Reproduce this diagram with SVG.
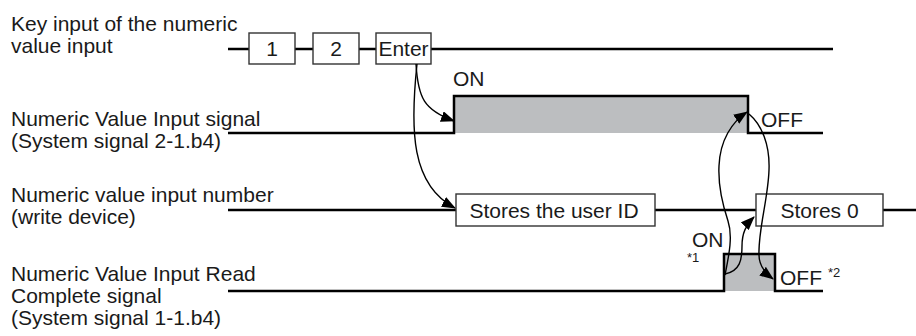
<svg xmlns="http://www.w3.org/2000/svg" width="916" height="336" viewBox="0 0 916 336">
<style>
text{font-family:"Liberation Sans",Arial,sans-serif;font-size:21px;fill:#1a1a1a}
.small{font-size:13px}
.mid{text-anchor:middle}
.sig{fill:none;stroke:#000;stroke-width:2.5}
.box{fill:#fff;stroke:#333;stroke-width:1.4}
.hi{fill:#bcbec0;stroke:none}
.arr{fill:none;stroke:#000;stroke-width:1.4;marker-end:url(#ah)}
</style>
<defs>
<marker id="ah" viewBox="0 0 14 11" refX="13" refY="5.5" markerWidth="14" markerHeight="11" markerUnits="userSpaceOnUse" orient="auto"><path d="M0,0 L14,5.5 L0,11 z" fill="#000"/></marker>
</defs>
<rect width="916" height="336" fill="#fff"/>
<g id="labels">
<text x="11" y="31">Key input of the numeric</text>
<text x="11" y="53">value input</text>
<text x="11" y="126">Numeric Value Input signal</text>
<text x="11" y="148">(System signal 2-1.b4)</text>
<text x="11" y="202">Numeric value input number</text>
<text x="11" y="224">(write device)</text>
<text x="11" y="281">Numeric Value Input Read</text>
<text x="11" y="303">Complete signal</text>
<text x="11" y="325">(System signal 1-1.b4)</text>
</g>
<g id="key-input">
<line class="sig" x1="228" y1="49" x2="833" y2="49"/>
<g id="key-1"><rect class="box" x="249" y="33" width="46" height="31"/><text class="mid" x="272" y="56">1</text></g>
<g id="key-2"><rect class="box" x="313" y="33" width="46" height="31"/><text class="mid" x="336" y="56">2</text></g>
<g id="key-enter"><rect class="box" x="376" y="33" width="55" height="31"/><text class="mid" x="403.5" y="56">Enter</text></g>
</g>
<g id="input-signal">
<rect class="hi" x="454" y="96" width="294" height="37"/>
<polyline class="sig" points="228,133 454,133 454,96 748,96 748,133 823,133"/>
<text x="453" y="86">ON</text>
<text x="761" y="127">OFF</text>
</g>
<g id="input-number">
<line class="sig" x1="228" y1="210" x2="916" y2="210"/>
<g id="stores-id"><rect class="box" x="456" y="194" width="199" height="32"/><text class="mid" x="554" y="217.5">Stores the user ID</text></g>
<g id="stores-0"><rect class="box" x="756" y="194" width="127" height="32"/><text class="mid" x="819.5" y="217.5">Stores 0</text></g>
</g>
<g id="read-complete">
<rect class="hi" x="724" y="254" width="51" height="37"/>
<polyline class="sig" points="228,291 724,291 724,254 775,254 775,291 823,291"/>
<text x="692" y="247">ON</text>
<text class="small" x="687" y="262">*1</text>
<text x="780" y="285">OFF</text>
<text class="small" x="828" y="277">*2</text>
</g>
<g id="connectors">
<path class="arr" d="M416,64 C418,98 424,110 454,121"/>
<path class="arr" d="M417,64 C410,130 411,185 455,208"/>
<path class="arr" d="M725,275 C729,255 733,236 728,221 C722,203 718,186 719,166 C720,140 732,122 747,112"/>
<path class="arr" d="M749,114 C762,125 770,145 769,170 C768,200 758,230 759,255 C759,266 765,273 773,279"/>
<path class="arr" d="M725,274 C740,271 742,260 742,246 C742,233 746,225 754,217"/>
</g>
</svg>
